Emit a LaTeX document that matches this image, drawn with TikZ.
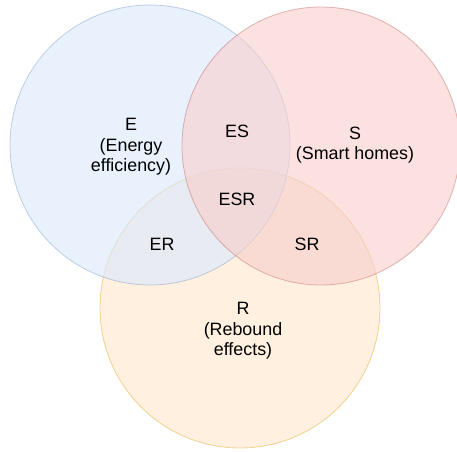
\documentclass[tikz,border=0pt]{standalone}
\usepackage{fontspec}
\setmainfont{Liberation Sans}
\usepackage{tikz}
\usetikzlibrary{positioning}
\usepackage{xcolor}

\definecolor{efill}{HTML}{DAE8FC}
\definecolor{eline}{HTML}{6C8EBF}
\definecolor{sfill}{HTML}{F8CECC}
\definecolor{sline}{HTML}{B85450}
\definecolor{rfill}{HTML}{FFE6CC}
\definecolor{rline}{HTML}{D79B00}

\begin{document}
\begin{tikzpicture} [x=0.75pt, y=-0.75pt,
		set/.style={fill opacity=0.6, draw opacity=0.4, line width=0.6pt},
		lbl/.style={align=center, inner sep=0pt, font=\fontsize{13.4}{15.5}\selectfont}]
						\useasboundingbox (0, 0) rectangle (457, 452);

						\draw [set, draw=rline, fill=rfill] (240, 308) circle (140);

						\draw [set, draw=eline, fill=efill] (150, 145) circle (140);

						\draw [set, draw=sline, fill=sfill] (321, 146) circle (139);

						\node [lbl] (e) at (131, 147) {E\\(Energy\\efficiency)};
						\node [lbl] (s) at (355, 145) {S\\(Smart homes)};
						\node [lbl] (r) at (243, 331) {R\\(Rebound\\effects)};

						\node [lbl] (es) at (237, 131) {ES};
						\node [lbl] (esr) at (237, 199) {ESR};
						\node [lbl] (er) at (162, 244) {ER};
						\node [lbl] (sr) at (307, 244) {SR};

					\end{tikzpicture}
\end{document}
